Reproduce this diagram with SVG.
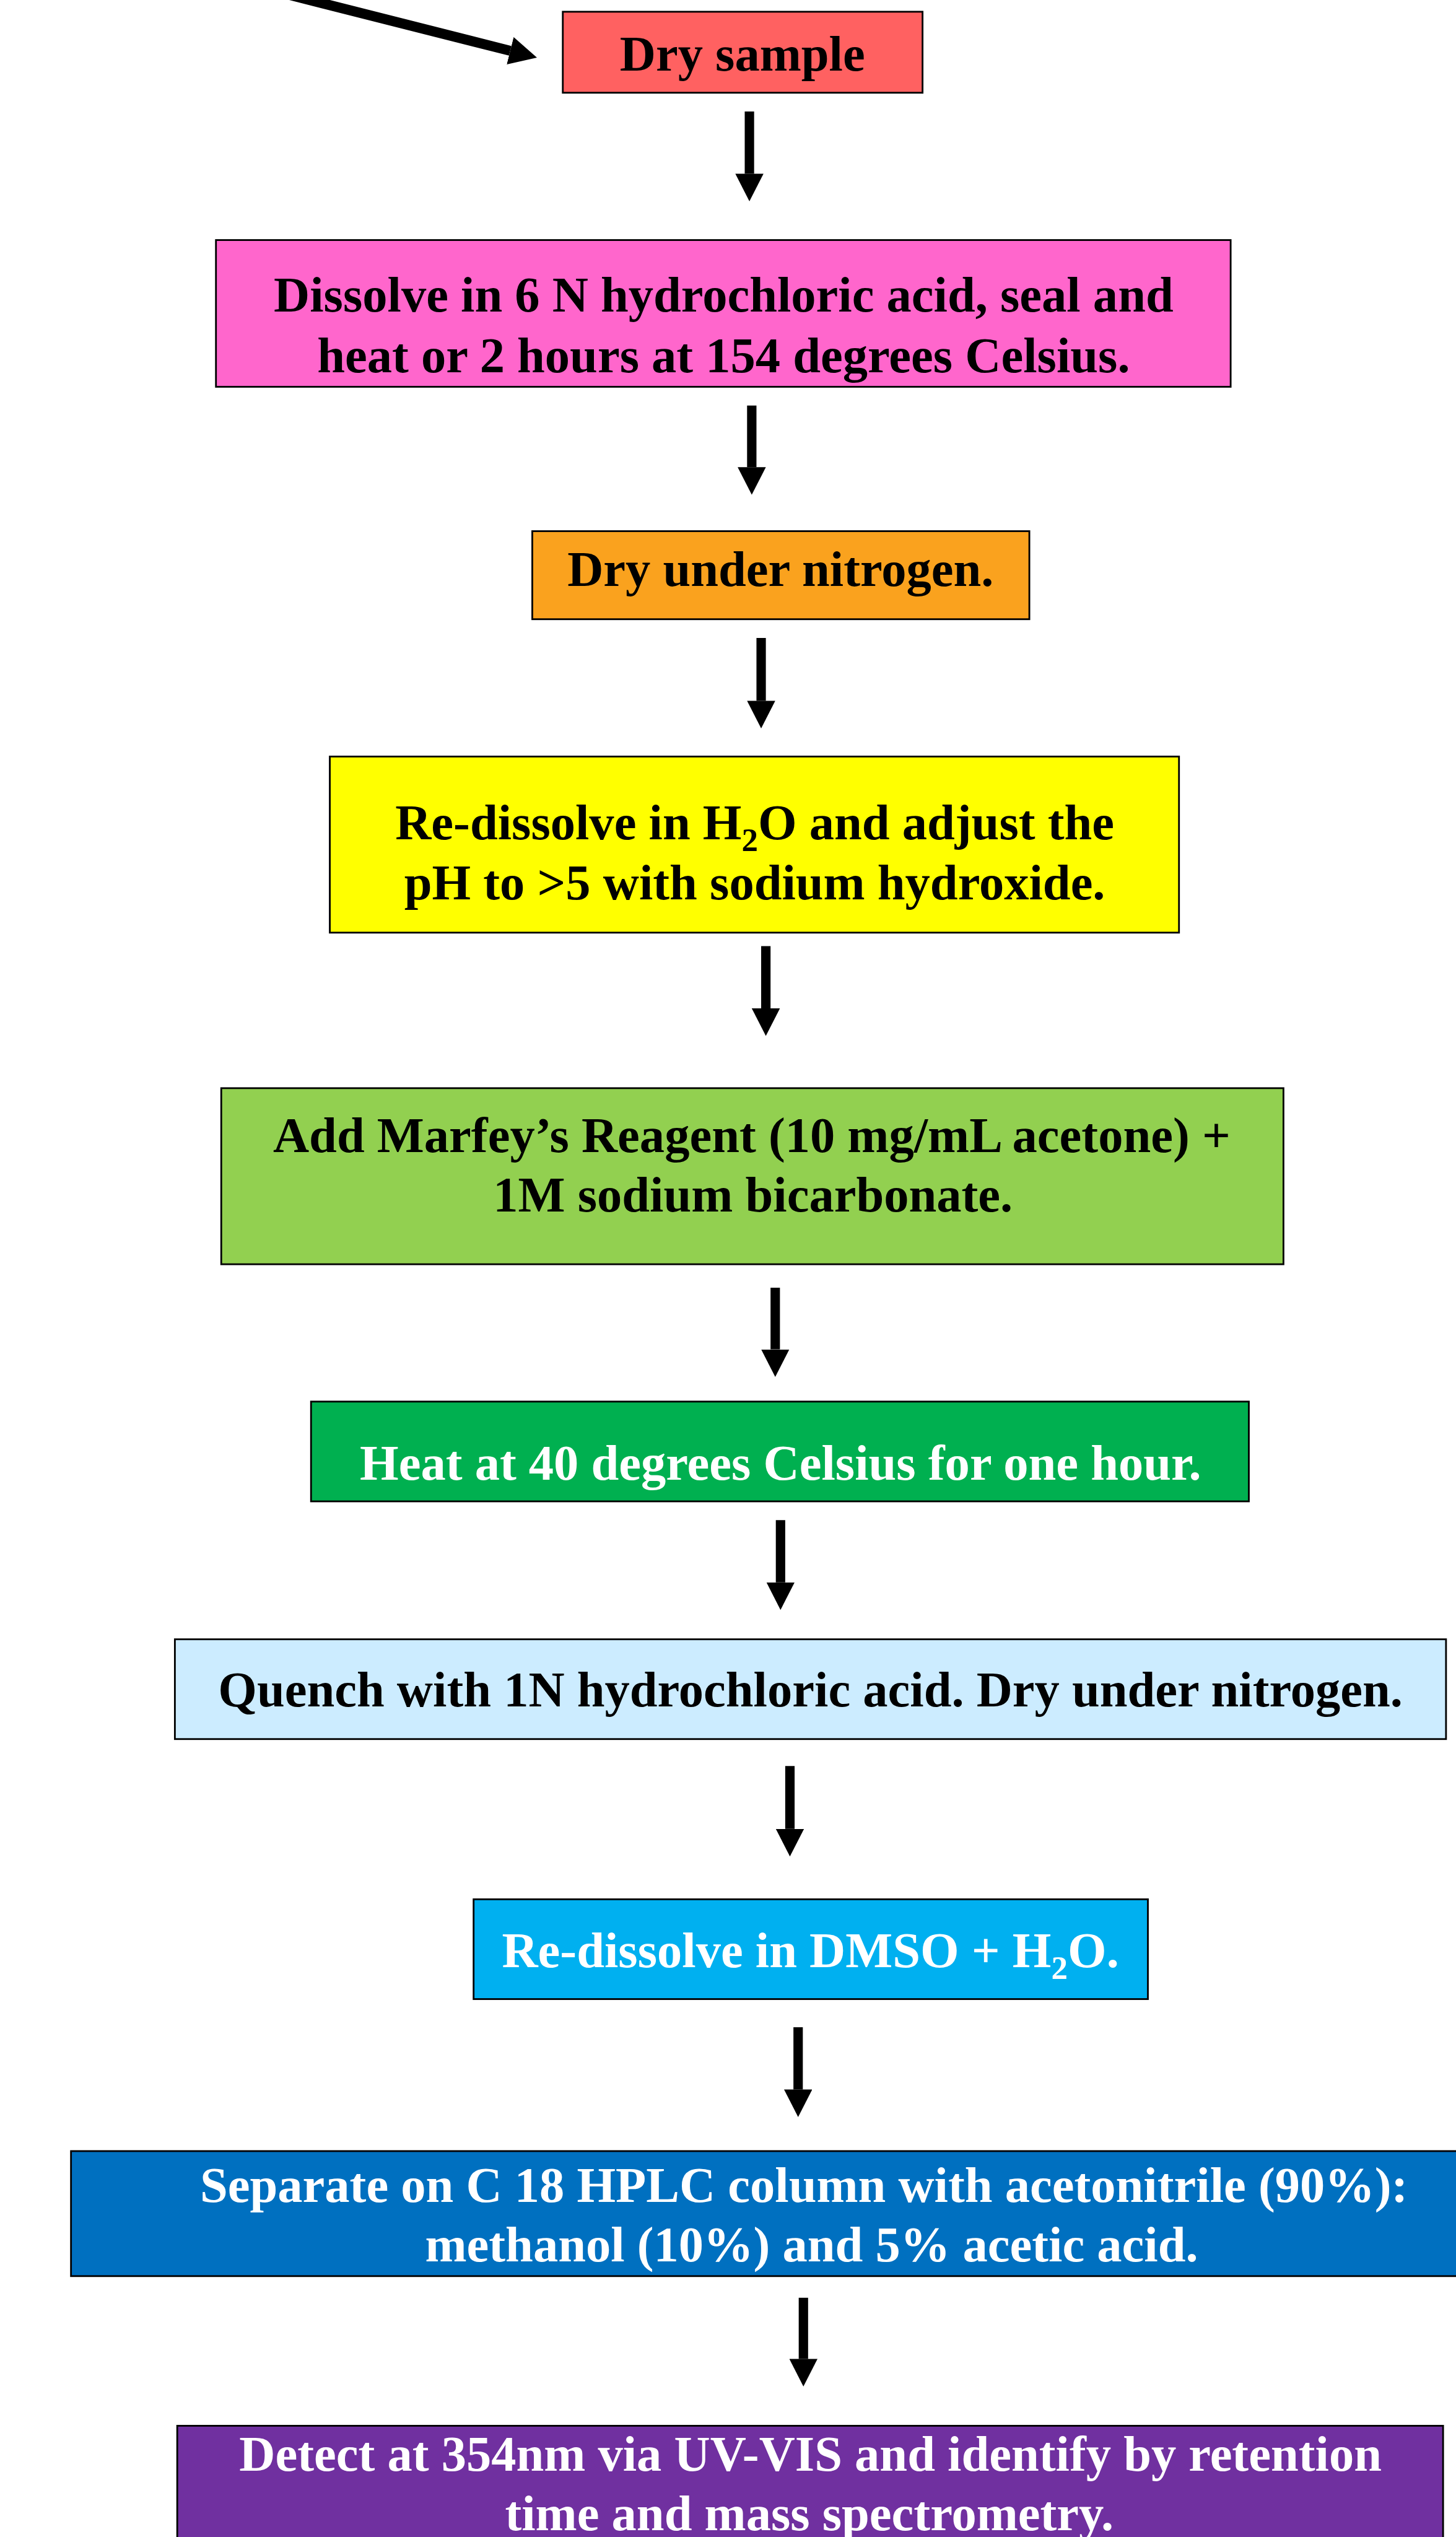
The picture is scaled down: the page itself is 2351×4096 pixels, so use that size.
<svg xmlns="http://www.w3.org/2000/svg" width="2351" height="4096" viewBox="0 0 2351 4096">
<style>
.box{stroke:#000;stroke-width:3}
.t{font-family:"Liberation Serif","Times New Roman",serif;font-weight:bold;font-size:85px;text-anchor:middle;fill:#000}
.w{fill:#fff}
.sub{font-size:56px}
.arr{stroke:#000;stroke-width:16;fill:none;marker-end:url(#ah)}
</style>
<defs>
<marker id="ah" viewBox="0 0 47 48" refX="0" refY="24" markerWidth="47" markerHeight="48" markerUnits="userSpaceOnUse" orient="auto">
<path d="M0,0 L47,24 L0,48 Z" fill="#000"/>
</marker>
</defs>
<rect width="2351" height="4096" fill="#fff"/>
<g transform="scale(0.9476)">
<g id="connectors">
<line class="arr" style="stroke-width:17" x1="480" y1="-12" x2="869.4" y2="86.5"/>
<line class="arr" x1="1277" y1="190" x2="1277" y2="296"/>
<line class="arr" x1="1281" y1="691" x2="1281" y2="796"/>
<line class="arr" x1="1297" y1="1087" x2="1297" y2="1194"/>
<line class="arr" x1="1305" y1="1612" x2="1305" y2="1718"/>
<line class="arr" x1="1321" y1="2194" x2="1321" y2="2299"/>
<line class="arr" x1="1330" y1="2590" x2="1330" y2="2696"/>
<line class="arr" x1="1346" y1="3009" x2="1346" y2="3116"/>
<line class="arr" x1="1360" y1="3454" x2="1360" y2="3560"/>
<line class="arr" x1="1369" y1="3915" x2="1369" y2="4019"/>
</g>
<g id="n1">
<rect class="box" x="959" y="20" width="613" height="138" fill="#FF6161"/>
<text class="t" x="1265" y="120">Dry sample</text>
</g>
<g id="n2">
<rect class="box" x="368" y="409" width="1729" height="250" fill="#FF66CC"/>
<text class="t" x="1233" y="531">Dissolve in 6 N hydrochloric acid, seal and</text>
<text class="t" x="1233" y="634">heat or 2 hours at 154 degrees Celsius.</text>
</g>
<g id="n3">
<rect class="box" x="907" y="905" width="847" height="150" fill="#FAA21E"/>
<text class="t" x="1330" y="998">Dry under nitrogen.</text>
</g>
<g id="n4">
<rect class="box" x="562" y="1289" width="1447" height="300" fill="#FFFF00"/>
<text class="t" x="1286" y="1430">Re-dissolve in H<tspan class="sub" dy="20">2</tspan><tspan dy="-20">O and adjust the</tspan></text>
<text class="t" x="1286" y="1532">pH to &gt;5 with sodium hydroxide.</text>
</g>
<g id="n5">
<rect class="box" x="377" y="1854" width="1810" height="300" fill="#92D050"/>
<text class="t" x="1281" y="1963">Add Marfey’s Reagent (10 mg/mL acetone) +</text>
<text class="t" x="1283" y="2064">1M sodium bicarbonate.</text>
</g>
<g id="n6">
<rect class="box" x="530" y="2388" width="1598" height="170" fill="#00B050"/>
<text class="t w" x="1330" y="2521">Heat at 40 degrees Celsius for one hour.</text>
</g>
<g id="n7">
<rect class="box" x="298" y="2793" width="2166" height="170" fill="#CCECFF"/>
<text class="t" x="1381" y="2907">Quench with 1N hydrochloric acid. Dry under nitrogen.</text>
</g>
<g id="n8">
<rect class="box" x="807" y="3236" width="1149" height="170" fill="#00B0F0"/>
<text class="t w" x="1381" y="3352">Re-dissolve in DMSO + H<tspan class="sub" dy="20">2</tspan><tspan dy="-20">O.</tspan></text>
</g>
<g id="n9">
<rect class="box" x="121" y="3665" width="2520" height="213" fill="#0070C0"/>
<text class="t w" x="1370" y="3752">Separate on C 18 HPLC column with acetonitrile (90%):</text>
<text class="t w" x="1383" y="3853">methanol (10%) and 5% acetic acid.</text>
</g>
<g id="n10">
<rect class="box" x="302" y="4133" width="2157" height="260" fill="#7030A0"/>
<text class="t w" x="1381" y="4210">Detect at 354nm via UV-VIS and identify by retention</text>
<text class="t w" x="1379" y="4311">time and mass spectrometry.</text>
</g>
</g>
</svg>
